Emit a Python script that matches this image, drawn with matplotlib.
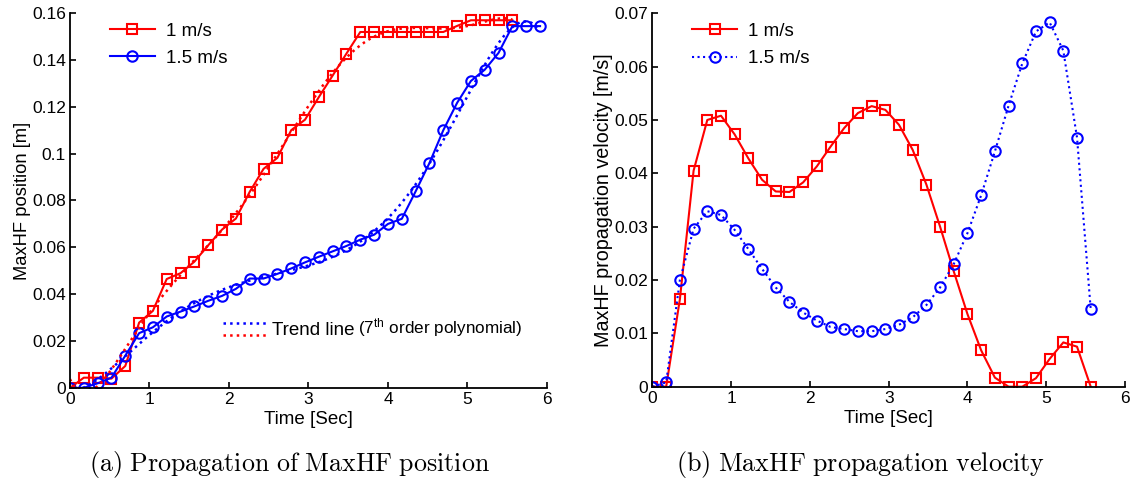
import numpy as np
import matplotlib
matplotlib.use("Agg")
import matplotlib.pyplot as plt
from matplotlib.lines import Line2D
from matplotlib.legend_handler import HandlerBase

plt.rcParams["font.family"] = ["Liberation Sans", "DejaVu Sans"]
plt.rcParams["mathtext.fontset"] = "cm"

# Sample times [s] (every 4th frame at 23 fps)
time_s = [0.000, 0.174, 0.348, 0.522, 0.696, 0.870, 1.043, 1.217, 1.391,
          1.565, 1.739, 1.913, 2.087, 2.261, 2.435, 2.609, 2.783, 2.957,
          3.130, 3.304, 3.478, 3.652, 3.826, 4.000, 4.174, 4.348, 4.522,
          4.696, 4.870, 5.043, 5.217, 5.391, 5.565, 5.739, 5.913]

# MaxHF position [m]
pos_1ms = [0.0, 0.0044, 0.0044, 0.0040, 0.0094, 0.0279, 0.0329, 0.0465,
           0.0490, 0.0539, 0.0609, 0.0676, 0.0723, 0.0837, 0.0935, 0.0982,
           0.1100, 0.1145, 0.1241, 0.1333, 0.1427, 0.1519, 0.1519, 0.1519,
           0.1519, 0.1519, 0.1519, 0.1519, 0.1545, 0.1569, 0.1569, 0.1569,
           0.1569]
pos_15ms = [0.0, 0.0001, 0.0020, 0.0044, 0.0138, 0.0234, 0.0259, 0.0305,
            0.0326, 0.0348, 0.0372, 0.0393, 0.0423, 0.0467, 0.0467, 0.0487,
            0.0510, 0.0536, 0.0560, 0.0583, 0.0606, 0.0633, 0.0654, 0.0700,
            0.0722, 0.0839, 0.0960, 0.1100, 0.1217, 0.1310, 0.1358, 0.1430,
            0.1544, 0.1544, 0.1544]

# MaxHF propagation velocity [m/s]
vel_1ms = [0.0, 0.0, 0.0164, 0.0405, 0.0500, 0.0508, 0.0473, 0.0428,
           0.0388, 0.0366, 0.0365, 0.0383, 0.0413, 0.0450, 0.0485, 0.0513,
           0.0526, 0.0519, 0.0491, 0.0444, 0.0379, 0.0300, 0.0216, 0.0136,
           0.0068, 0.0017, 0.0, 0.0, 0.0016, 0.0052, 0.0083, 0.0075, 0.0]
vel_15ms = [0.0, 0.0008, 0.0200, 0.0296, 0.0329, 0.0322, 0.0294, 0.0258,
            0.0221, 0.0186, 0.0159, 0.0139, 0.0124, 0.0112, 0.0108, 0.0104,
            0.0104, 0.0108, 0.0116, 0.0130, 0.0153, 0.0186, 0.0230, 0.0288,
            0.0359, 0.0441, 0.0527, 0.0606, 0.0666, 0.0683, 0.0630, 0.0467,
            0.0145]

series_labels = ["1 m/s", "1.5 m/s"]
RED = (1, 0, 0)
BLUE = (0, 0, 1)

t1 = np.array(time_s[:len(pos_1ms)])
t15 = np.array(time_s[:len(pos_15ms)])
tv1 = np.array(time_s[:len(vel_1ms)])
tv15 = np.array(time_s[:len(vel_15ms)])

fig = plt.figure(figsize=(11.32, 4.87), dpi=100)
ax1 = fig.add_axes([0.0618, 0.2033, 0.4214, 0.770])
ax2 = fig.add_axes([0.5764, 0.2060, 0.4174, 0.7667])

sq = dict(marker="s", markersize=7, markerfacecolor="none", markeredgewidth=1.5,
          linewidth=1.5, color=RED, markeredgecolor=RED)
ci = dict(marker="o", markersize=7.5, markerfacecolor="none", markeredgewidth=1.5,
          linewidth=1.5, color=BLUE, markeredgecolor=BLUE)

leg_kw = dict(loc="upper left", bbox_to_anchor=(0.06, 1.005), frameon=False,
              fontsize=13.5, handlelength=2.4, borderaxespad=0.2,
              labelspacing=0.55, handletextpad=0.6)

# (a) position with 7th-order polynomial trend lines
ax1.plot(t1, pos_1ms, linestyle="-", label=series_labels[0], **sq)
ax1.plot(t15, pos_15ms, linestyle="-", label=series_labels[1], **ci)

fit_1 = np.polynomial.Polynomial.fit(t1, pos_1ms, 7)
fit_15 = np.polynomial.Polynomial.fit(t15, pos_15ms, 7)
tt1 = np.linspace(t1[0], t1[-1], 300)
tt15 = np.linspace(t15[0], t15[-1], 300)
trend_r, = ax1.plot(tt1, fit_1(tt1), ":", color=RED, linewidth=1.8)
trend_b, = ax1.plot(tt15, fit_15(tt15), ":", color=BLUE, linewidth=1.8)

ax1.set_xlim(0, 6)
ax1.set_ylim(0, 0.16)
ax1.set_yticks([0, 0.02, 0.04, 0.06, 0.08, 0.1, 0.12, 0.14, 0.16])
ax1.set_yticklabels(["0", "0.02", "0.04", "0.06", "0.08", "0.1", "0.12", "0.14", "0.16"])
ax1.set_xlabel("Time [Sec]", fontsize=13.5, labelpad=3)
ax1.set_ylabel("MaxHF position [m]", fontsize=13.2, labelpad=1)

leg1 = ax1.legend(**leg_kw)
ax1.add_artist(leg1)


class StackedLinesHandler(HandlerBase):
    """Draw a pair of lines one above the other as a single legend key."""

    def create_artists(self, legend, orig_handle, xdescent, ydescent,
                       width, height, fontsize, trans):
        top, bottom = orig_handle
        arts = []
        for ln, yf in ((top, 0.95), (bottom, 0.05)):
            l = Line2D([-xdescent, width - xdescent],
                       [height * yf - ydescent] * 2,
                       color=ln.get_color(), linestyle=ln.get_linestyle(),
                       linewidth=ln.get_linewidth())
            l.set_transform(trans)
            arts.append(l)
        return arts


leg2 = ax1.legend([(trend_b, trend_r)], ["Trend line"],
                  handler_map={tuple: StackedLinesHandler()},
                  loc="lower left", bbox_to_anchor=(0.305, 0.11), frameon=False,
                  fontsize=13.5, handlelength=2.3, handletextpad=0.3,
                  borderaxespad=0.0)
ax1.annotate("$\\mathregular{(7^{th}\\ order\\ polynomial)}$",
             xy=(1.0, 0.0), xycoords=leg2.get_texts()[0],
             xytext=(3, 0), textcoords="offset points",
             fontsize=12.3, ha="left", va="bottom", zorder=10)

# (b) propagation velocity
ax2.plot(tv1, vel_1ms, linestyle="-", label=series_labels[0], **sq)
ax2.plot(tv15, vel_15ms, linestyle=":", label=series_labels[1], **ci)
ax2.set_xlim(0, 6)
ax2.set_ylim(0, 0.07)
ax2.set_yticks([0, 0.01, 0.02, 0.03, 0.04, 0.05, 0.06, 0.07])
ax2.set_yticklabels(["0", "0.01", "0.02", "0.03", "0.04", "0.05", "0.06", "0.07"])
ax2.set_xlabel("Time [Sec]", fontsize=13.5, labelpad=3)
ax2.set_ylabel("MaxHF propagation velocity [m/s]", fontsize=14.2, labelpad=1)
ax2.legend(**leg_kw)

for ax in (ax1, ax2):
    ax.set_xticks([0, 1, 2, 3, 4, 5, 6])
    for side in ("top", "right"):
        ax.spines[side].set_visible(False)
    for side in ("left", "bottom"):
        ax.spines[side].set_linewidth(1.3)
        ax.spines[side].set_zorder(5)
    ax.tick_params(direction="in", length=4, width=1.2, labelsize=12.5, pad=3)

fig.text(0.2560, 0.032, r"$\mathrm{(a)\ Propagation\ of\ MaxHF\ position}$",
         fontsize=18.7, ha="center", va="baseline")
fig.text(0.7600, 0.032, r"$\mathrm{(b)\ MaxHF\ propagation\ velocity}$",
         fontsize=18.7, ha="center", va="baseline")

fig.savefig("out.png", dpi=100)
